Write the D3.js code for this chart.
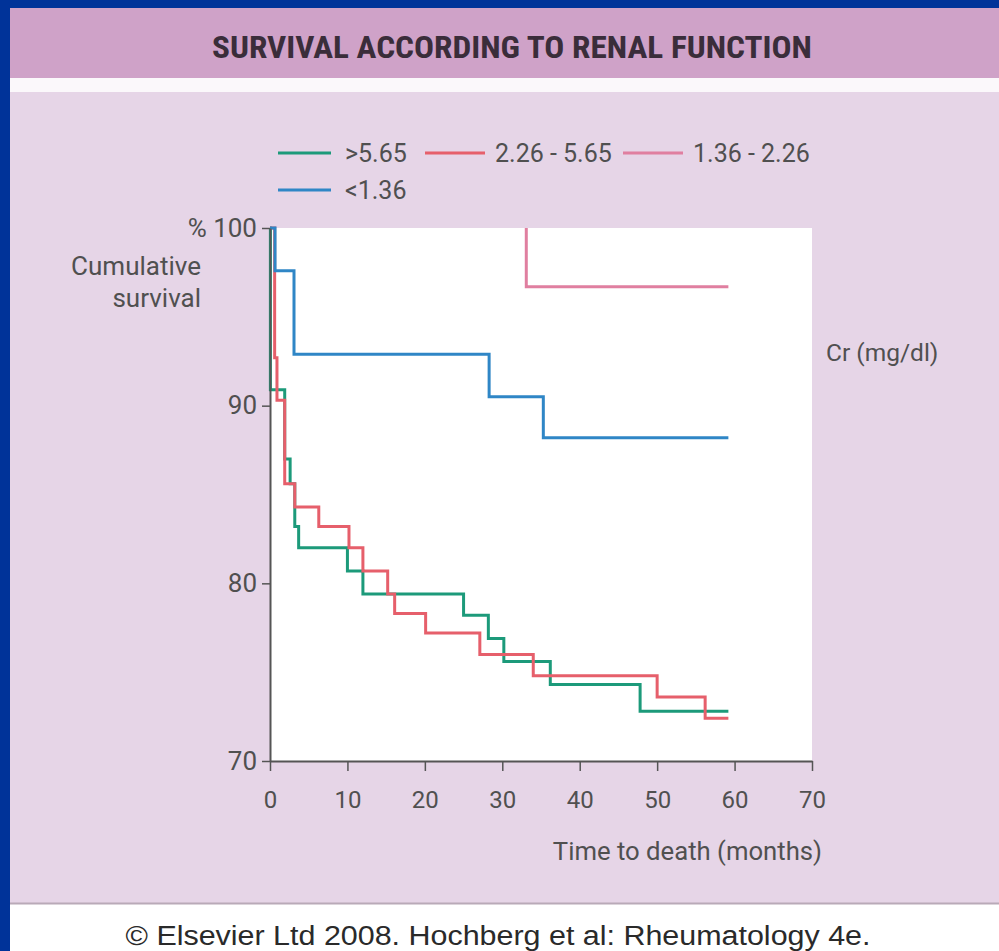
<!DOCTYPE html>
<html>
<head>
<meta charset="utf-8">
<script src="https://cdn.jsdelivr.net/npm/d3@7"></script>
<style>
html,body{margin:0;padding:0;background:#fff;}
svg{display:block;}
</style>
</head>
<body>
<script>
// ---- data ----
const title = "SURVIVAL ACCORDING TO RENAL FUNCTION";
const seriesNames = [">5.65", "2.26 - 5.65", "1.36 - 2.26", "<1.36"];
const seriesColors = ["#1c9a7a", "#e65f6b", "#e07fa0", "#2f86c6"];
const greenTimes = [0, 0.05, 1.9, 2.6, 3.2, 3.7, 10.0, 12.0, 25.0, 28.2, 30.2, 36.2, 47.8, 59.2];
const greenSurv  = [100, 90.9, 87.0, 85.6, 83.2, 82.0, 80.7, 79.4, 78.2, 76.9, 75.6, 74.3, 72.8, 72.8];
const redTimes = [0, 0.6, 0.9, 1.9, 3.2, 6.3, 10.2, 12.0, 15.2, 16.1, 20.1, 27.1, 34.0, 50.0, 56.2, 59.2];
const redSurv  = [100, 92.7, 90.3, 85.6, 84.3, 83.2, 82.0, 80.7, 79.4, 78.3, 77.2, 76.0, 74.8, 73.6, 72.4, 72.4];
const pinkTimes = [33.1, 33.1, 59.2];
const pinkSurv  = [100, 96.7, 96.7];
const blueTimes = [0, 0.65, 3.1, 28.3, 35.3, 59.2];
const blueSurv  = [100, 97.6, 92.9, 90.5, 88.2, 88.2];
const xTicks = [0, 10, 20, 30, 40, 50, 60, 70];
const yTicks = [70, 80, 90, 100];
const xLabel = "Time to death (months)";
const yLabel = ["Cumulative", "survival"];
const legendTitle = "Cr (mg/dl)";
const credit = "© Elsevier Ltd 2008. Hochberg et al: Rheumatology 4e.";

const W = 999, H = 951;
const svg = d3.select("body").append("svg").attr("width", W).attr("height", H);

// ---- background frame ----
svg.append("rect").attr("x",0).attr("y",0).attr("width",W).attr("height",H).attr("fill","#ffffff");
svg.append("rect").attr("x",0).attr("y",92).attr("width",W).attr("height",811).attr("fill","#e6d5e7");
svg.append("rect").attr("x",0).attr("y",8).attr("width",W).attr("height",70).attr("fill","#cfa2c8");
svg.append("rect").attr("x",0).attr("y",78).attr("width",W).attr("height",14).attr("fill","#fbf8fb");
svg.append("line").attr("x1",0).attr("x2",W).attr("y1",903.5).attr("y2",903.5).attr("stroke","#b9aab8").attr("stroke-width",2);
svg.append("rect").attr("x",0).attr("y",0).attr("width",W).attr("height",8).attr("fill","#003399");
svg.append("rect").attr("x",0).attr("y",0).attr("width",10).attr("height",H).attr("fill","#003399");

svg.append("text").attr("x",512).attr("y",58)
  .attr("text-anchor","middle")
  .attr("font-family","'Liberation Sans Narrow','Roboto Condensed','Liberation Sans',sans-serif")
  .attr("font-weight","bold").attr("font-size",31).attr("fill","#3a2d3a")
  .attr("textLength",600).attr("lengthAdjust","spacingAndGlyphs")
  .text(title);

// ---- scales ----
const x = d3.scaleLinear().domain([0,70]).range([270,812]);
const y = d3.scaleLinear().domain([70,100]).range([761,228]);

svg.append("rect").attr("x",x(0)).attr("y",y(100)).attr("width",x(70)-x(0)).attr("height",y(70)-y(100)).attr("fill","#ffffff");

const fontMain = "Roboto,'Liberation Sans',sans-serif";
const tickColor = "#505050";

// ---- series ----
const series = [
  {name: seriesNames[0], color: seriesColors[0], t: greenTimes, s: greenSurv},
  {name: seriesNames[1], color: seriesColors[1], t: redTimes, s: redSurv},
  {name: seriesNames[2], color: seriesColors[2], t: pinkTimes, s: pinkSurv},
  {name: seriesNames[3], color: seriesColors[3], t: blueTimes, s: blueSurv}
];
const line = d3.line().x(d => x(d[0])).y(d => y(d[1])).curve(d3.curveStepAfter);
svg.append("g").selectAll("path").data(series).join("path")
  .attr("d", d => line(d.t.map((t,i) => [t, d.s[i]])))
  .attr("fill","none").attr("stroke", d => d.color).attr("stroke-width", 3);

// ---- axes (on top) ----
const gx = svg.append("g").attr("transform",`translate(0,${y(70)})`)
  .call(d3.axisBottom(x).tickValues(xTicks).tickSize(10).tickSizeOuter(0).tickPadding(20));
const gy = svg.append("g").attr("transform",`translate(${x(0)},0)`)
  .call(d3.axisLeft(y).tickValues(yTicks).tickSize(8).tickSizeOuter(0).tickPadding(5)
    .tickFormat(d => d === 100 ? "% 100" : d));
[gx, gy].forEach(g => {
  g.select(".domain").attr("stroke", "#555").attr("stroke-width", 2);
  g.selectAll(".tick line").attr("stroke", "#555").attr("stroke-width", 1.5);
  g.selectAll(".tick text").attr("fill", tickColor).attr("font-family", fontMain);
});
gx.selectAll(".tick text").attr("font-size", 24);
gy.selectAll(".tick text").attr("font-size", 26);

// ---- legend ----
const legendPos = [[278,153],[425,153],[623,153],[278,190]];
const lg = svg.append("g").selectAll("g").data(series).join("g")
  .attr("transform", (d,i) => `translate(${legendPos[i][0]},${legendPos[i][1]})`);
lg.append("line").attr("x1",0).attr("x2",(d,i)=> i===1||i===2 ? 60 : 53).attr("y1",0).attr("y2",0)
  .attr("stroke", d => d.color).attr("stroke-width",3);
lg.append("text").attr("x",(d,i)=> i===1||i===2 ? 70 : 67).attr("y",9)
  .attr("font-family",fontMain).attr("font-size",25).attr("fill",tickColor)
  .text(d => d.name);

// ---- labels ----
svg.append("g").selectAll("text").data(yLabel).join("text")
  .attr("x",201).attr("y",(d,i)=>275+i*32).attr("text-anchor","end")
  .attr("font-family",fontMain).attr("font-size",26).attr("fill",tickColor).text(d=>d);
svg.append("text").attr("x",826).attr("y",361).attr("font-family",fontMain).attr("font-size",24.5)
  .attr("fill",tickColor).text(legendTitle);
svg.append("text").attr("x",822).attr("y",860).attr("text-anchor","end").attr("font-family",fontMain)
  .attr("font-size",25.7).attr("fill",tickColor).text(xLabel);

svg.append("text").attr("x",498).attr("y",945).attr("text-anchor","middle")
  .attr("font-family","'Liberation Sans',Arial,sans-serif").attr("font-size",27).attr("fill","#2a2a2a")
  .attr("textLength",745).attr("lengthAdjust","spacingAndGlyphs")
  .text(credit);
</script>
</body>
</html>
